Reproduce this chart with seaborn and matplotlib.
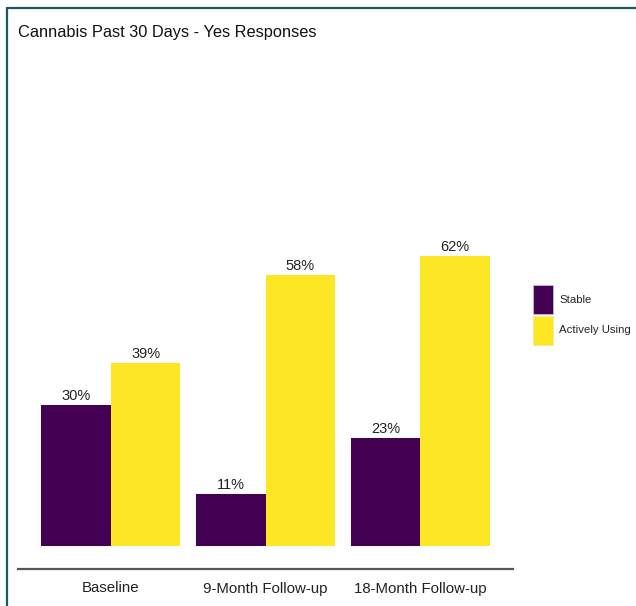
import matplotlib
matplotlib.use("Agg")
import matplotlib.pyplot as plt
from matplotlib.lines import Line2D
from matplotlib.patches import Patch
import seaborn as sns
import pandas as pd

# Survey waves and share of "yes" responses per group
timepoints = ["Baseline", "9-Month Follow-up", "18-Month Follow-up"]
groups = ["Stable", "Actively Using"]
stable_pct = [30, 11, 23]
active_pct = [39, 58, 62]
group_colors = ["#440154", "#FDE725"]

df = pd.DataFrame({
    "timepoint": timepoints * 2,
    "group": [groups[0]] * 3 + [groups[1]] * 3,
    "pct": stable_pct + active_pct,
})

sns.set_theme(style="white")
plt.rcParams["font.family"] = ["Liberation Sans Narrow", "Liberation Sans", "DejaVu Sans"]

W, H = 636, 606
fig = plt.figure(figsize=(W / 100, H / 100), dpi=100)
ax = fig.add_axes([18 / W, (H - 569) / H, (513 - 18) / W, (569 - 55) / H])

sns.barplot(data=df, x="timepoint", y="pct", hue="group", order=timepoints,
            hue_order=groups, palette=group_colors, width=0.9, gap=0,
            linewidth=0, saturation=1, ax=ax, legend=False)

for cont, vals in zip(ax.containers, [stable_pct, active_pct]):
    ax.bar_label(cont, labels=[f"{v}%" for v in vals], padding=1.5,
                 fontsize=10.5, color="#222222")

ax.set_xlim(-0.6, 2.6)
ax.set_ylim(-5, 105)
ax.set_xlabel("")
ax.set_ylabel("")
ax.set_yticks([])
for s in ["top", "right", "left"]:
    ax.spines[s].set_visible(False)
ax.spines["bottom"].set_color("#555555")
ax.spines["bottom"].set_linewidth(1.6)
ax.tick_params(axis="x", length=0, pad=9, labelsize=10.8, labelcolor="#222222")

fig.text(18 / W, 1 - 33 / H, "Cannabis Past 30 Days - Yes Responses",
         fontsize=11.8, color="#111111", va="center", ha="left")

# Legend keys stacked on the right
handles = [Patch(facecolor=c, edgecolor="#c8b8d0" if i == 0 else "#f5ec9a", linewidth=0.6)
           for i, c in enumerate(group_colors)]
fig.legend(handles, groups, loc="upper left", bbox_to_anchor=(533 / W, 1 - 285 / H),
           frameon=False, fontsize=8.2, handlelength=1.75, handleheight=3.6,
           handletextpad=0.55, labelspacing=0.1, borderaxespad=0, borderpad=0)

# Frame lines along the top and left edges
fig.add_artist(Line2D([7 / W, 1], [1 - 8 / H, 1 - 8 / H], color="#1d5560", lw=1.6,
                      transform=fig.transFigure))
fig.add_artist(Line2D([7 / W, 7 / W], [0, 1 - 8 / H], color="#1d5560", lw=1.6,
                      transform=fig.transFigure))

fig.savefig("out.png", dpi=100)
